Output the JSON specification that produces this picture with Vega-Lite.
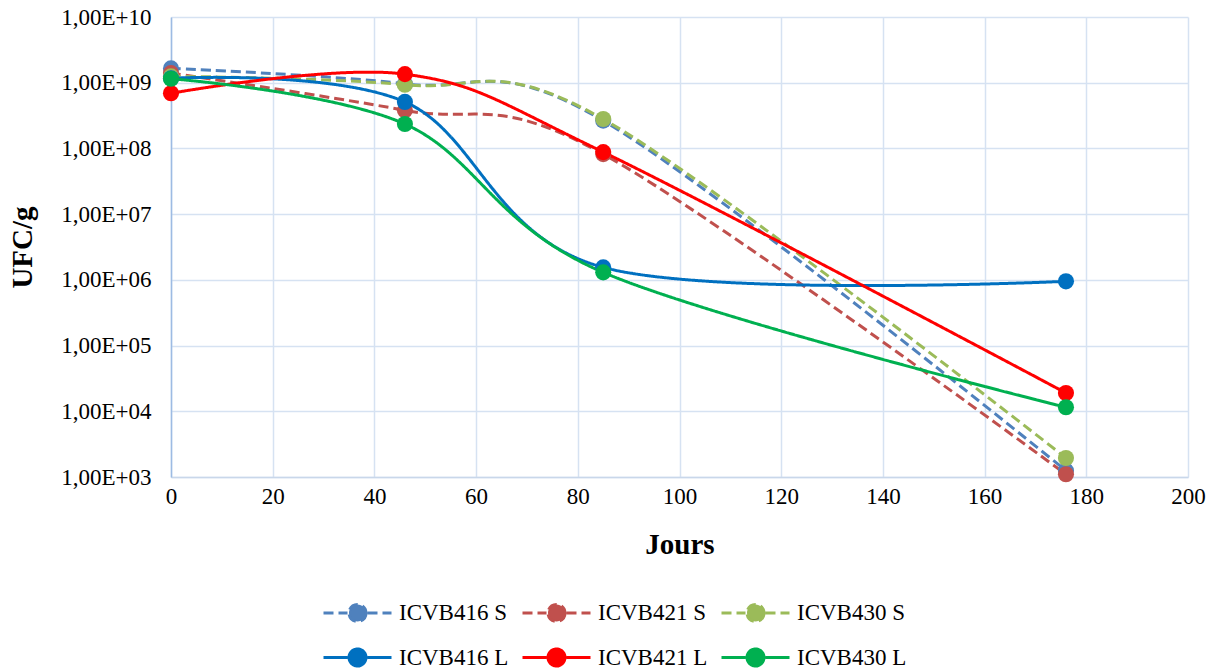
{
  "$schema": "https://vega.github.io/schema/vega-lite/v6.json",
  "width": 1017,
  "height": 460,
  "autosize": {"type": "none"},
  "padding": {"left": 171, "top": 17, "right": 26, "bottom": 191},
  "background": "white",
  "config": {
    "font": "Liberation Serif",
    "view": {"stroke": null},
    "axis": {"labelFont": "Liberation Serif", "titleFont": "Liberation Serif", "labelColor": "#000", "titleColor": "#000", "gridColor": "#D6E2F2", "gridWidth": 1.5, "ticks": false}
  },
  "data": {"values": [
    {"series": "ICVB416 S", "jours": 0, "ufc": 1.65e9},
    {"series": "ICVB416 S", "jours": 46, "ufc": 9.6e8},
    {"series": "ICVB416 S", "jours": 85, "ufc": 2.65e8},
    {"series": "ICVB416 S", "jours": 176, "ufc": 1.25e3},
    {"series": "ICVB421 S", "jours": 0, "ufc": 1.4e9},
    {"series": "ICVB421 S", "jours": 46, "ufc": 3.8e8},
    {"series": "ICVB421 S", "jours": 85, "ufc": 8.2e7},
    {"series": "ICVB421 S", "jours": 176, "ufc": 1.1e3},
    {"series": "ICVB430 S", "jours": 0, "ufc": 1.25e9},
    {"series": "ICVB430 S", "jours": 46, "ufc": 9.3e8},
    {"series": "ICVB430 S", "jours": 85, "ufc": 2.8e8},
    {"series": "ICVB430 S", "jours": 176, "ufc": 1.95e3},
    {"series": "ICVB416 L", "jours": 0, "ufc": 1.17e9},
    {"series": "ICVB416 L", "jours": 46, "ufc": 5.1e8},
    {"series": "ICVB416 L", "jours": 85, "ufc": 1.55e6},
    {"series": "ICVB416 L", "jours": 176, "ufc": 9.5e5},
    {"series": "ICVB421 L", "jours": 0, "ufc": 6.9e8},
    {"series": "ICVB421 L", "jours": 46, "ufc": 1.35e9},
    {"series": "ICVB421 L", "jours": 85, "ufc": 8.8e7},
    {"series": "ICVB421 L", "jours": 176, "ufc": 1.9e4},
    {"series": "ICVB430 L", "jours": 0, "ufc": 1.15e9},
    {"series": "ICVB430 L", "jours": 46, "ufc": 2.35e8},
    {"series": "ICVB430 L", "jours": 85, "ufc": 1.3e6},
    {"series": "ICVB430 L", "jours": 176, "ufc": 1.15e4}
  ]},
  "mark": {"type": "line", "interpolate": "cardinal", "strokeWidth": 3, "point": {"filled": true, "size": 260, "opacity": 1}},
  "encoding": {
    "x": {"field": "jours", "type": "quantitative", "scale": {"domain": [0, 200], "nice": false},
      "axis": {"values": [0, 20, 40, 60, 80, 100, 120, 140, 160, 180, 200], "title": "Jours", "labelFontSize": 23, "titleFontSize": 29, "titleFontWeight": "bold", "labelPadding": 8, "titlePadding": 22, "labelFlush": false, "domainColor": "#C9D7EA", "domainWidth": 1.5}},
    "y": {"field": "ufc", "type": "quantitative", "scale": {"type": "log", "domain": [1000, 1e10], "nice": false},
      "axis": {"values": [1e3, 1e4, 1e5, 1e6, 1e7, 1e8, 1e9, 1e10], "title": "UFC/g", "labelFontSize": 23, "titleFontSize": 29, "titleFontWeight": "bold", "labelPadding": 20, "titlePadding": 23, "labelFlush": false, "domainColor": "#9DBBE3", "domainWidth": 1.5,
        "labelExpr": "'1,00E+' + (round(log(datum.value)/LN10) < 10 ? '0' : '') + round(log(datum.value)/LN10)"}},
    "color": {"field": "series", "type": "nominal",
      "scale": {"domain": ["ICVB416 S", "ICVB421 S", "ICVB430 S", "ICVB416 L", "ICVB421 L", "ICVB430 L"], "range": ["#4F81BD", "#C0504D", "#9BBB59", "#0070C0", "#FF0000", "#00B050"]},
      "legend": {"title": null, "orient": "none", "legendX": 151, "legendY": 584, "columns": 3, "direction": "horizontal", "labelFontSize": 23, "labelFont": "Liberation Serif", "labelColor": "#000", "symbolType": "M-1,0L1.4,0M3.4,0L5.8,0M3.25,0A0.85,0.85 0 1,1 1.55,0A0.85,0.85 0 1,1 3.25,0", "symbolSize": 400, "symbolStrokeWidth": 3, "columnPadding": 7, "rowPadding": 14, "labelOffset": 54,
        "encode": {"symbols": {"update": {"fill": {"scale": "color", "field": "value"}}}}}},
    "strokeDash": {"field": "series", "type": "nominal",
      "scale": {"domain": ["ICVB416 S", "ICVB421 S", "ICVB430 S", "ICVB416 L", "ICVB421 L", "ICVB430 L"], "range": [[10, 5], [10, 5], [10, 5], [1, 0], [1, 0], [1, 0]]},
      "legend": {"title": null, "orient": "none", "legendX": 151, "legendY": 584, "columns": 3, "direction": "horizontal", "labelFontSize": 23, "labelFont": "Liberation Serif", "labelColor": "#000", "symbolType": "M-1,0L1.4,0M3.4,0L5.8,0M3.25,0A0.85,0.85 0 1,1 1.55,0A0.85,0.85 0 1,1 3.25,0", "symbolSize": 400, "symbolStrokeWidth": 3, "columnPadding": 7, "rowPadding": 14, "labelOffset": 54}}
  }
}
